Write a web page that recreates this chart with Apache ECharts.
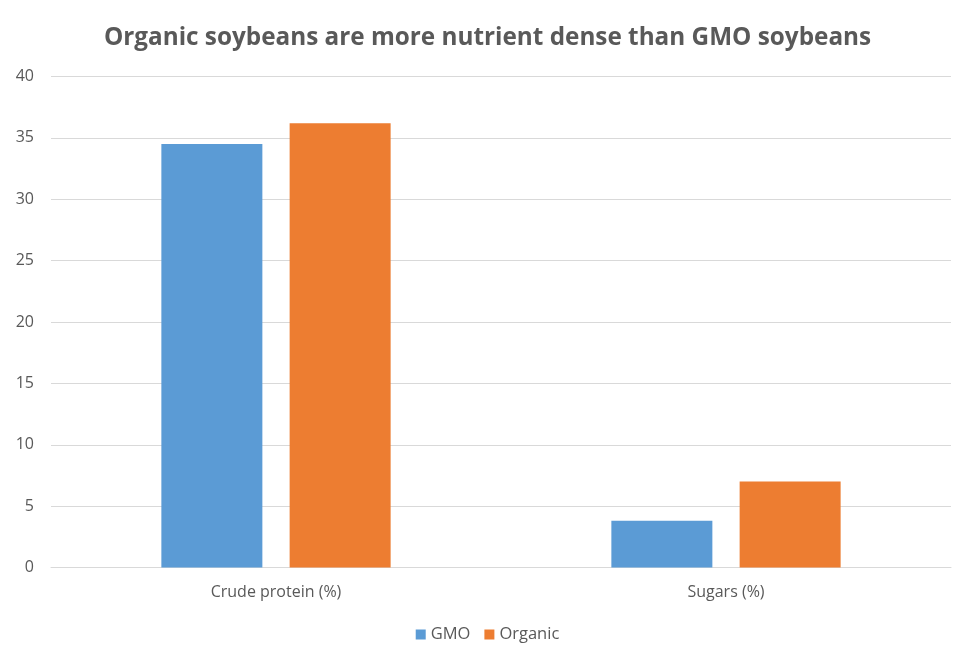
<!DOCTYPE html>
<html><head><meta charset="utf-8">
<script src="https://cdn.jsdelivr.net/npm/echarts@6/dist/echarts.min.js"></script>
<style>html,body{margin:0;padding:0;background:#fff}#c{width:975px;height:664px}</style>
</head><body><div id="c"></div>
<script>
const categories = ['Crude protein (%)', 'Sugars (%)'];
const gmoValues = [34.5, 3.8];
const organicValues = [36.2, 7.0];
const yTicks = {min: 0, max: 40, interval: 5};
const titleText = 'Organic soybeans are more nutrient dense than GMO soybeans';

const chart = echarts.init(document.getElementById('c'));
const font = '"Open Sans", "Noto Sans", sans-serif';
chart.setOption({
  animation: false,
  title: {text: titleText, left: 'center', top: 21,
    textStyle: {fontFamily: font, fontWeight: 'bold', fontSize: 24.3, color: '#595959'}},
  grid: {left: 51, right: 24, top: 76.5, bottom: 96.5, containLabel: false},
  legend: {bottom: 16, left: 'center', itemWidth: 10, itemHeight: 10, itemGap: 14,
    icon: 'rect', textStyle: {fontFamily: font, fontSize: 16.5, color: '#595959'}},
  xAxis: {type: 'category', data: categories,
    axisLine: {lineStyle: {color: '#d9d9d9', width: 1}}, axisTick: {show: false},
    axisLabel: {fontFamily: font, fontSize: 16, color: '#595959', margin: 17}},
  yAxis: {type: 'value', min: yTicks.min, max: yTicks.max, interval: yTicks.interval,
    axisLine: {show: false}, axisTick: {show: false},
    splitLine: {lineStyle: {color: '#d9d9d9', width: 1}},
    axisLabel: {fontFamily: font, fontSize: 16, color: '#595959', margin: 17}},
  series: [
    {name: 'GMO', type: 'bar', data: gmoValues, barWidth: 101, barGap: '27%',
      itemStyle: {color: '#5b9bd5'}},
    {name: 'Organic', type: 'bar', data: organicValues, barWidth: 101,
      itemStyle: {color: '#ed7d31'}}
  ]
});
</script></body></html>
